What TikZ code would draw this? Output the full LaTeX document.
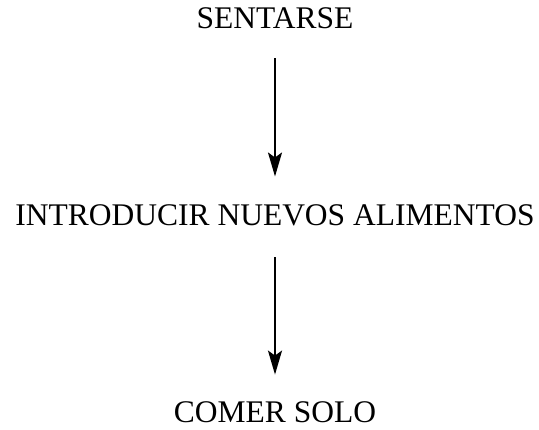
\documentclass[tikz,border=0pt]{standalone}
\usepackage{fontspec}
\setmainfont{Liberation Serif}
\usetikzlibrary{positioning,arrows.meta}
\tikzset{>={Stealth[length=24pt,width=14pt,inset=5pt]}}

\begin{document}
\begin{tikzpicture}[node distance = 197pt, font=\fontsize{31.5pt}{36pt}\selectfont, line width=2pt]
        \useasboundingbox (0,0) rectangle (539pt,-430pt);
        \node (S) at (275pt,-18.5pt) {SENTARSE};  %top step
        \node (I) [below of=S] {INTRODUCIR NUEVOS ALIMENTOS};
        \node (C) [below of=I] {COMER SOLO};

        \draw[->, shorten <= 25pt, shorten >= 24pt] (S) -- (I);
        \draw[->, shorten <= 27pt, shorten >= 23pt] (I) -- (C);
      \end{tikzpicture}
\end{document}
